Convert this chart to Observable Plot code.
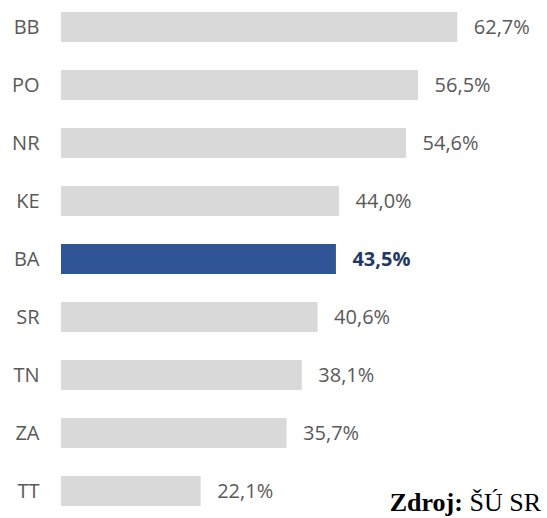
<!DOCTYPE html>
<html>
<head>
<meta charset="utf-8">
<script src="https://cdn.jsdelivr.net/npm/d3@7"></script>
<script src="https://cdn.jsdelivr.net/npm/@observablehq/plot@0.6"></script>
<style>
  html, body { margin: 0; padding: 0; background: #fff; }
  #chart { position: relative; width: 547px; height: 518px; }
</style>
</head>
<body>
<div id="chart"></div>
<script>
const categories = ["BB", "PO", "NR", "KE", "BA", "SR", "TN", "ZA", "TT"];
const values = [62.7, 56.5, 54.6, 44.0, 43.5, 40.6, 38.1, 35.7, 22.1];
const highlight = "BA";
const sourceBold = "Zdroj:";
const sourceText = " ŠÚ SR";

const data = categories.map((c, i) => ({ region: c, value: values[i], hl: c === highlight }));
const fmt = v => v.toFixed(1).replace(".", ",") + "%";

const chart = Plot.plot({
  width: 547,
  height: 518,
  marginLeft: 61,
  marginRight: 12,
  marginTop: 0,
  marginBottom: 0,
  style: { fontFamily: "'Open Sans', sans-serif", fontSize: "20px", color: "#595959", background: "#fff" },
  x: { domain: [0, 75], axis: null },
  y: { domain: categories, paddingInner: 0.49, paddingOuter: 0.19, label: null },
  marks: [
    Plot.barX(data, { x: "value", y: "region", fill: d => d.hl ? "#2F5597" : "#D9D9D9" }),
    Plot.text(data.filter(d => !d.hl), {
      x: "value", y: "region", text: d => fmt(d.value), textAnchor: "start", dx: 16,
      fill: "#595959", fontSize: 20
    }),
    Plot.text(data.filter(d => d.hl), {
      x: "value", y: "region", text: d => fmt(d.value), textAnchor: "start", dx: 16,
      fill: "#1F3864", fontWeight: "bold", fontSize: 20
    }),
    Plot.axisY({ tickSize: 0, tickPadding: 22, fontSize: 20, fill: "#595959", label: null })
  ]
});
document.getElementById("chart").appendChild(chart);

const t = d3.select(chart).append("text")
  .attr("x", 541).attr("y", 511)
  .attr("text-anchor", "end")
  .attr("font-family", "'Liberation Serif', 'Times New Roman', serif")
  .attr("font-size", 26)
  .attr("fill", "#000");
t.append("tspan").attr("font-weight", "bold").text(sourceBold);
t.append("tspan").text(sourceText);
</script>
</body>
</html>
